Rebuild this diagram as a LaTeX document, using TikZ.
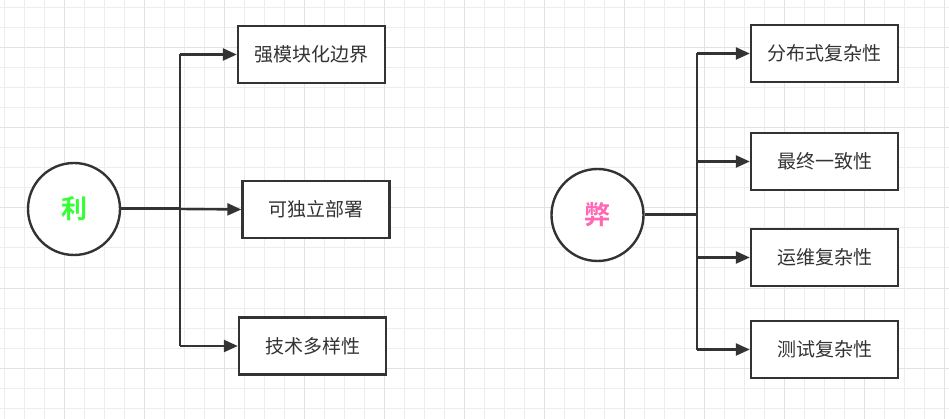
\documentclass[tikz,border=0pt]{standalone}
\usepackage{fontspec}
\newfontfamily\cjk{Noto Sans CJK SC}
\newfontfamily\cjkb{Noto Sans CJK SC Bold}
\usetikzlibrary{arrows.meta}
\definecolor{minorgrid}{HTML}{EDEDED}
\definecolor{majorgrid}{HTML}{E2E2E2}
\definecolor{ink}{HTML}{333333}
\definecolor{ligreen}{HTML}{33FF33}
\definecolor{bipink}{HTML}{FF66B3}
\tikzset{
  itembox/.style={draw=ink, line width=2.4pt, fill=white, minimum width=147pt, minimum height=57pt, inner sep=0pt, font=\cjk\fontsize{19}{22}\selectfont, text=ink},
  hub/.style={draw=ink, line width=2.4pt, fill=white, circle, minimum size=92pt, inner sep=0pt},
  link/.style={draw=ink, line width=2.4pt},
  arr/.style={draw=ink, line width=2.4pt, -{Triangle[length=14pt,width=12pt]}},
}
\begin{document}
\begin{tikzpicture}[x=1pt,y=-1pt]
\useasboundingbox (0,0) rectangle (949,419);
\fill[white] (0,0) rectangle (949,419);
% grid
\foreach \gx in {4,24,...,944} \draw[minorgrid, line width=1pt] (\gx,0) -- (\gx,419);
\foreach \gy in {8,28,...,418} \draw[minorgrid, line width=1pt] (0,\gy) -- (949,\gy);
\foreach \gx in {64,144,...,944} \draw[majorgrid, line width=1pt] (\gx,0) -- (\gx,419);
\foreach \gy in {48,128,...,418} \draw[majorgrid, line width=1pt] (0,\gy) -- (949,\gy);

% left group
\node[hub] (li) at (74,209) {\cjkb\fontsize{26}{30}\selectfont\color{ligreen}利};
\node[itembox] (a1) at (311.5,54.5) {强模块化边界};
\node[itembox] (a2) at (316,209.5) {可独立部署};
\node[itembox] (a3) at (312.5,346) {技术多样性};
\coordinate (lj) at (180,209);
\coordinate (lt) at (180,54.5);
\coordinate (lb) at (180,346);
\draw[link, line width=3pt] (li.east) -- (lj);
\draw[link] (lt) -- (lb);
\draw[arr] (lt) -- (a1.west);
\draw[arr] (lj) -- (a2.west);
\draw[arr] (lb) -- (a3.west);

% right group
\node[hub] (bi) at (597.5,215) {\cjkb\fontsize{26}{30}\selectfont\color{bipink}弊};
\node[itembox] (b1) at (824.5,53.5) {分布式复杂性};
\node[itembox] (b2) at (824.5,161.5) {最终一致性};
\node[itembox] (b3) at (824.5,257.5) {运维复杂性};
\node[itembox] (b4) at (824.5,349.5) {测试复杂性};
\coordinate (rj) at (697,215);
\coordinate (rt) at (697,53.5);
\coordinate (r2) at (697,161.5);
\coordinate (r3) at (697,257.5);
\coordinate (rb) at (697,349.5);
\draw[link, line width=3pt] (bi.east) -- (rj);
\draw[link] (rt) -- (rb);
\draw[arr] (rt) -- (b1.west);
\draw[arr] (r2) -- (b2.west);
\draw[arr] (r3) -- (b3.west);
\draw[arr] (rb) -- (b4.west);
\end{tikzpicture}
\end{document}
